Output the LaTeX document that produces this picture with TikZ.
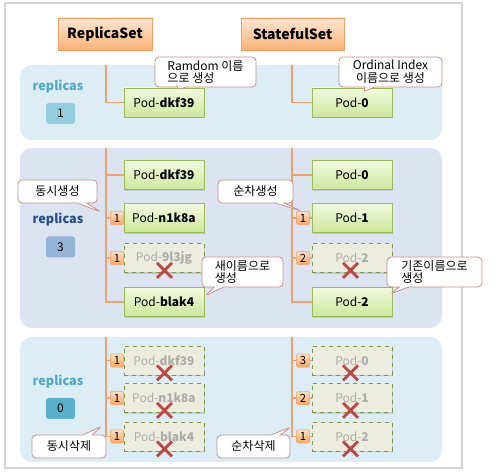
\documentclass[tikz,border=0pt]{standalone}
\usepackage{fontspec}
\setmainfont{Noto Sans CJK KR}
\usetikzlibrary{shapes.callouts,shadows}
\definecolor{lineor}{HTML}{E9A274}
\definecolor{podbd}{HTML}{9BBB59}
\definecolor{podtop}{HTML}{F2F9DF}
\definecolor{podbot}{HTML}{CDE79D}
\definecolor{dpodfill}{HTML}{EDEDDF}
\definecolor{dpodtxt}{HTML}{ABABAB}
\definecolor{xred}{HTML}{B94A48}
\definecolor{calbd}{HTML}{C9908B}
\definecolor{bandA}{HTML}{DDEDF5}
\definecolor{bandB}{HTML}{DCE3F1}
\definecolor{repA}{HTML}{4FA9C6}
\definecolor{repB}{HTML}{264D85}
\definecolor{numA}{HTML}{93CDDD}
\definecolor{numB}{HTML}{95B3D7}
\definecolor{numC}{HTML}{5BB0C9}
\definecolor{hdrbd}{HTML}{F0A060}
\definecolor{hdrtop}{HTML}{FDE6D2}
\definecolor{hdrbot}{HTML}{F9B277}
\definecolor{badtop}{HTML}{FDE0C4}
\definecolor{badbot}{HTML}{F8A766}
\definecolor{framec}{HTML}{D4D4D4}
\begin{document}
\begin{tikzpicture}[x=0.75pt,y=-0.75pt,
  hdr/.style={rectangle, draw=hdrbd, top color=hdrtop, bottom color=hdrbot,
    minimum height=24pt, inner sep=0pt, font=\fontsize{10.5}{12}\selectfont\bfseries,
    drop shadow={shadow xshift=0.8pt, shadow yshift=-0.8pt, opacity=0.25}},
  pod/.style={rectangle, draw=podbd, line width=0.6pt, top color=podtop, bottom color=podbot,
    minimum width=60pt, minimum height=21.75pt, inner sep=0pt,
    font=\fontsize{9}{10}\selectfont,
    drop shadow={shadow xshift=0.9pt, shadow yshift=-0.9pt, opacity=0.3}},
  dpod/.style={rectangle, draw=podbd!80!black, dashed, line width=0.6pt, fill=dpodfill,
    minimum width=60pt, minimum height=21.75pt, inner sep=0pt, text=dpodtxt,
    font=\fontsize{9}{10}\selectfont,
    drop shadow={shadow xshift=0.9pt, shadow yshift=-0.9pt, opacity=0.3}},
  badge/.style={rectangle, rounded corners=1.2pt, draw=hdrbd, top color=badtop, bottom color=badbot,
    minimum width=10pt, minimum height=10pt, inner sep=0pt,
    font=\fontsize{8.5}{9}\selectfont},
  conn/.style={draw=lineor, line width=0.9pt},
  xm/.style={draw=xred, line width=2.2pt},
  band/.style={rounded corners=9pt},
  reptext/.style={font=\fontsize{9.5}{11}\selectfont\bfseries, inner sep=0pt},
  numbox/.style={rectangle, rounded corners=2pt, minimum width=21.75pt, minimum height=15.75pt,
    inner sep=0pt, font=\fontsize{9}{10}\selectfont},
  callout/.style={rectangle callout, draw=calbd, fill=white, line width=0.6pt, rounded corners=3pt,
    callout pointer width=7pt, inner sep=0pt, align=left,
    font=\fontsize{9}{9.6}\selectfont}
]
\useasboundingbox (0,0) rectangle (497,473);
\draw[framec, fill=white, line width=0.8pt] (5,3) rectangle (462,468);

% bands
\fill[bandA, band] (20,65) rectangle (442,140);
\fill[bandB, band] (20,148) rectangle (442,328);
\fill[bandA, band] (20,337) rectangle (442,462);

% headers
\node[hdr, minimum width=70.5pt] (rs) at (105,34) {ReplicaSet};
\node[hdr, minimum width=77.25pt] (ss) at (292.5,34) {StatefulSet};

% replicas labels
\node[reptext, text=repA] (rl1) at (58,87) {replicas};
\node[numbox, fill=numA] (n1) at (60.5,113.5) {1};
\node[reptext, text=repB] (rl2) at (58,220) {replicas};
\node[numbox, fill=numB] (n2) at (60.5,247) {3};
\node[reptext, text=repA] (rl3) at (58,382) {replicas};
\node[numbox, fill=numC] (n3) at (60.5,408.5) {0};

% ---------- band 1 ----------
\coordinate (rt1) at (106,65);
\coordinate (st1) at (292,65);
\node[pod] (r1a) at (164,102.5) {Pod-\textbf{dkf39}};
\node[pod] (s1a) at (352,102.5) {Pod-\textbf{0}};
\draw[conn] (rt1) |- (r1a.west);
\draw[conn] (st1) |- (s1a.west);

% ---------- band 2 ----------
\coordinate (rt2) at (106,148);
\coordinate (st2) at (292,148);
\node[pod] (r2a) at (164,175) {Pod-\textbf{dkf39}};
\node[pod] (r2b) at (164,218) {Pod-\textbf{n1k8a}};
\node[dpod] (r2c) at (164,258) {Pod-\textbf{9l3jg}};
\node[pod] (r2d) at (164,302) {Pod-\textbf{blak4}};
\node[pod] (s2a) at (352,175) {Pod-\textbf{0}};
\node[pod] (s2b) at (352,218) {Pod-\textbf{1}};
\node[dpod] (s2c) at (352,258) {Pod-\textbf{2}};
\node[pod] (s2d) at (352,302) {Pod-\textbf{2}};
\draw[conn] (rt2) |- (r2d.west);
\draw[conn] (rt2 |- r2a.west) -- (r2a.west);
\draw[conn] (rt2 |- r2b.west) -- (r2b.west);
\draw[conn] (rt2 |- r2c.west) -- (r2c.west);
\draw[conn] (st2) |- (s2d.west);
\draw[conn] (st2 |- s2a.west) -- (s2a.west);
\draw[conn] (st2 |- s2b.west) -- (s2b.west);
\draw[conn] (st2 |- s2c.west) -- (s2c.west);
\node[badge] (br2b) at (117,218) {1};
\node[badge] (br2c) at (117,258) {1};
\node[badge] (bs2b) at (303,218) {1};
\node[badge] (bs2c) at (303,258) {2};
\draw[xm] ([shift={(-7,-10)}]r2c.south) -- ([shift={(8,5)}]r2c.south);
\draw[xm] ([shift={(-7,5)}]r2c.south) -- ([shift={(8,-10)}]r2c.south);
\draw[xm] ([shift={(-9,-10)}]s2c.south) -- ([shift={(6,5)}]s2c.south);
\draw[xm] ([shift={(-9,5)}]s2c.south) -- ([shift={(6,-10)}]s2c.south);

% ---------- band 3 ----------
\coordinate (rt3) at (106,337);
\coordinate (st3) at (292,337);
\node[dpod] (r3a) at (164,360.5) {Pod-\textbf{dkf39}};
\node[dpod] (r3b) at (164,398) {Pod-\textbf{n1k8a}};
\node[dpod] (r3c) at (164,436.5) {Pod-\textbf{blak4}};
\node[dpod] (s3a) at (352,360.5) {Pod-\textbf{0}};
\node[dpod] (s3b) at (352,398) {Pod-\textbf{1}};
\node[dpod] (s3c) at (352,436.5) {Pod-\textbf{2}};
\draw[conn] (rt3) |- (r3c.west);
\draw[conn] (rt3 |- r3a.west) -- (r3a.west);
\draw[conn] (rt3 |- r3b.west) -- (r3b.west);
\draw[conn] (st3) |- (s3c.west);
\draw[conn] (st3 |- s3a.west) -- (s3a.west);
\draw[conn] (st3 |- s3b.west) -- (s3b.west);
\node[badge] (br3a) at (117,360.5) {1};
\node[badge] (br3b) at (117,398) {1};
\node[badge] (br3c) at (117,436.5) {1};
\node[badge] (bs3a) at (303,360.5) {3};
\node[badge] (bs3b) at (303,398) {2};
\node[badge] (bs3c) at (303,436.5) {1};
\foreach \p/\dx in {r3a/0, r3b/0, r3c/0, s3a/-2, s3b/-2, s3c/-2}{
  \draw[xm] ([shift={(-7+\dx,-10)}]\p.south) -- ([shift={(8+\dx,5)}]\p.south);
  \draw[xm] ([shift={(-7+\dx,5)}]\p.south) -- ([shift={(8+\dx,-10)}]\p.south);
}

% ---------- callouts ----------
\node[callout, minimum width=75.75pt, minimum height=22.5pt, callout absolute pointer={(177,90)}]
  (c1) at (205.5,72) {Ramdom 이름\\으로 생성};
\node[callout, align=center, minimum width=77.25pt, minimum height=22.5pt, callout absolute pointer={(363,92)}]
  (c2) at (390.5,72) {Ordinal Index\\이름으로 생성};
\node[callout, minimum width=59.25pt, minimum height=17.25pt, callout absolute pointer={(101,212)}]
  (c3) at (57.5,191.5) {동시생성};
\node[callout, minimum width=56.25pt, minimum height=17.25pt, callout absolute pointer={(301,211)}]
  (c4) at (255.5,191.5) {순차생성};
\node[callout, minimum width=60.75pt, minimum height=22.5pt, callout absolute pointer={(205,296)}]
  (c5) at (242.5,272) {새이름으로\\생성};
\node[callout, minimum width=71.25pt, minimum height=22.5pt, callout absolute pointer={(390,294)}]
  (c6) at (434.5,272) {기존이름으로\\생성};
\node[callout, minimum width=55.5pt, minimum height=17.25pt, callout absolute pointer={(102,426)}]
  (c7) at (69,446.5) {동시삭제};
\node[callout, minimum width=54.75pt, minimum height=17.25pt, callout absolute pointer={(291,427)}]
  (c8) at (253.5,446.5) {순차삭제};
\end{tikzpicture}
\end{document}
